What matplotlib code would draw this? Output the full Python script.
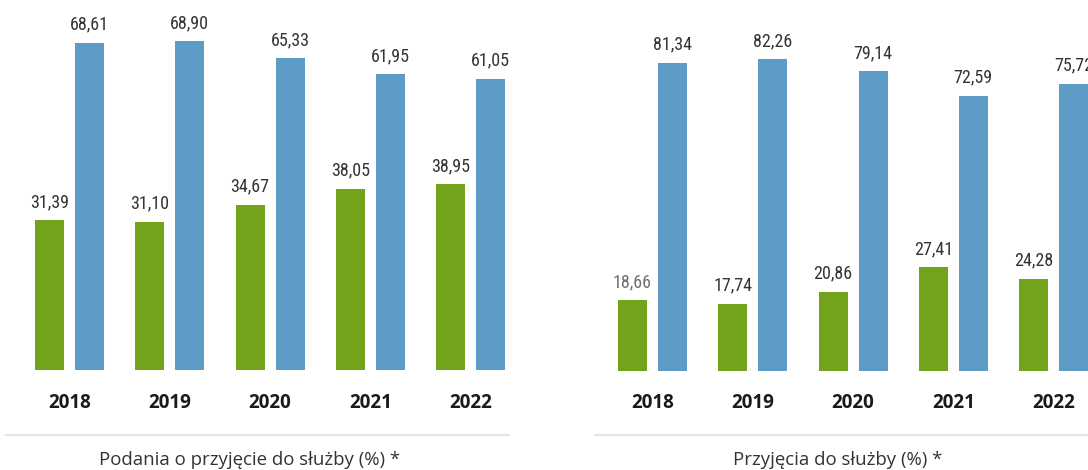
import matplotlib
matplotlib.use("Agg")
import matplotlib.pyplot as plt
from matplotlib import font_manager
from matplotlib.font_manager import FontProperties
from matplotlib.transforms import blended_transform_factory
import matplotlib.lines as mlines

years = ["2018", "2019", "2020", "2021", "2022"]
left_green = [31.39, 31.10, 34.67, 38.05, 38.95]
left_blue = [68.61, 68.90, 65.33, 61.95, 61.05]
right_green = [18.66, 17.74, 20.86, 27.41, 24.28]
right_blue = [81.34, 82.26, 79.14, 72.59, 75.72]
left_title = "Podania o przyjęcie do służby (%) *"
right_title = "Przyjęcia do służby (%) *"

GREEN = "#72a31a"
BLUE = "#5e9cc8"
TEXT = "#333333"

# look for a condensed face for the value labels
cands = []
for f in font_manager.fontManager.ttflist:
    low = f.fname.lower()
    if ("condensed" in low or "narrow" in low) and "bold" not in low and "italic" not in low \
            and "oblique" not in low and "light" not in low and "semi" not in low \
            and "extra" not in low and "medium" not in low and "thin" not in low \
            and "black" not in low:
        cands.append(f.fname)
pref = ["opensans", "roboto", "liberation", "dejavu"]
cands.sort(key=lambda p: next((k for k, s in enumerate(pref) if s in p.lower().replace("_", "").replace("-", "")), 99))
if cands:
    num_fp = FontProperties(fname=cands[0], size=13)
else:
    num_fp = FontProperties(family="Roboto", size=11.5)
main_font = "Open Sans"

W, H = 1088, 470
fig = plt.figure(figsize=(W / 100, H / 100), dpi=100)


def fx(px):
    return px / W


def fy(py):
    return 1 - py / H


def panel(x_start, spacing, offset, width, baseline, scale, ymax, green, blue, title,
          title_cx, line_x0, line_x1, grey_first=False):
    x0 = x_start - 0.5 * spacing
    x1 = x0 + 5 * spacing
    ytop = baseline - scale * ymax
    ax = fig.add_axes([fx(x0), fy(baseline), fx(x1 - x0), (baseline - ytop) / H])
    ax.set_xlim(-0.5, 4.5)
    ax.set_ylim(0, ymax)
    ax.axis("off")
    idx = list(range(len(years)))
    off = offset / spacing
    bw = width / spacing
    ax.bar([i - off for i in idx], green, width=bw, color=GREEN, clip_on=False)
    ax.bar([i + off for i in idx], blue, width=bw, color=BLUE, clip_on=False)
    for i in idx:
        col = "#707070" if (grey_first and i == 0) else TEXT
        ax.annotate(f"{green[i]:.2f}".replace(".", ","), (i - off, green[i]),
                    xytext=(0, 9.5), textcoords="offset points", ha="center",
                    va="baseline", fontproperties=num_fp, color=col,
                    annotation_clip=False)
        ax.annotate(f"{blue[i]:.2f}".replace(".", ","), (i + off, blue[i]),
                    xytext=(0, 9.5), textcoords="offset points", ha="center",
                    va="baseline", fontproperties=num_fp, color=TEXT,
                    annotation_clip=False)
    tr = blended_transform_factory(ax.transData, fig.transFigure)
    for i, y in enumerate(years):
        ax.text(i, fy(408.5), y, transform=tr, ha="center", va="baseline",
                fontsize=13.5, fontweight="bold", color="#1a1a1a", family=main_font,
                clip_on=False)
    fig.add_artist(mlines.Line2D([fx(line_x0), fx(line_x1)], [fy(434.5), fy(434.5)],
                                color="#e4e5ea", lw=1.5))
    fig.text(fx(title_cx), fy(465), title, ha="center", va="baseline", fontsize=13.4,
             color=TEXT, family=main_font)
    return ax


panel(69.5, 100.25, 20, 29, 370, 4.77, 70, left_green, left_blue, left_title,
      249.5, 6, 509)
panel(652.5, 100.25, 20, 29, 371, 3.79, 90, right_green, right_blue, right_title,
      837.5, 595, 1100, grey_first=True)

fig.savefig("out.png", dpi=100)
